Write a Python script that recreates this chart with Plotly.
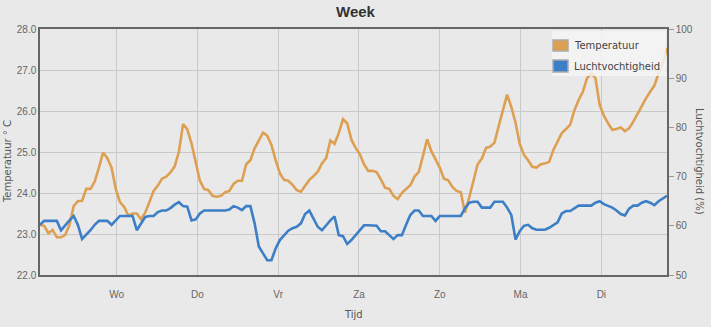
import pandas as pd
import plotly.graph_objects as go

# Readings every 75 minutes, starting Tuesday 01:15
start = "2014-06-03 01:15"
step = "75min"

temperatuur = [
    23.22, 23.2, 23.02, 23.1, 22.92, 22.92, 22.98, 23.22, 23.68, 23.8,
    23.81, 24.1, 24.1, 24.28, 24.62, 24.99, 24.85, 24.62, 24.1, 23.78,
    23.66, 23.45, 23.5, 23.5, 23.36, 23.52, 23.78, 24.05, 24.18, 24.35,
    24.4, 24.5, 24.65, 25.0, 25.68, 25.55, 25.21, 24.72, 24.3,
    24.1, 24.07, 23.93, 23.91, 23.93, 24.02, 24.05, 24.22, 24.3, 24.3,
    24.7, 24.8, 25.09, 25.3, 25.47, 25.4, 25.17, 24.8, 24.48, 24.32,
    24.3, 24.2, 24.07, 24.03, 24.17, 24.32, 24.41, 24.52, 24.72, 24.85,
    25.28, 25.2, 25.46, 25.8, 25.7, 25.3, 25.1, 24.95,
    24.7, 24.54, 24.54, 24.51, 24.33, 24.13, 24.1, 23.93, 23.85, 24.0,
    24.1, 24.19, 24.4, 24.51, 24.9, 25.31, 25.02, 24.82, 24.62, 24.35,
    24.31, 24.15, 24.05, 24.02, 23.52, 23.89, 24.29, 24.7, 24.84, 25.1,
    25.13, 25.23, 25.63, 26.04, 26.4, 26.1, 25.72, 25.2,
    24.93, 24.8, 24.64, 24.62, 24.7, 24.72, 24.76, 25.05, 25.25, 25.46,
    25.56, 25.67, 26.02, 26.27, 26.47, 26.8, 26.92, 26.8, 26.15, 25.89,
    25.7, 25.54, 25.56, 25.6, 25.51, 25.58, 25.74, 25.94, 26.13, 26.31,
    26.47, 26.62, 26.92, 27.16, 27.54,
]

luchtvochtigheid = [
    60.2, 61.0, 61.0, 61.0, 61.0, 59.1, 60.2, 61.1, 62.0, 60.2,
    57.3, 58.1, 59.1, 60.2, 61.0, 61.0, 61.0, 60.2, 61.0, 62.0,
    62.0, 62.0, 62.0, 59.1, 60.5, 61.8, 62.0, 62.0, 62.8, 63.1,
    63.1, 63.6, 64.3, 64.8, 64.0, 63.9, 61.1, 61.3, 62.5,
    63.1, 63.1, 63.1, 63.1, 63.1, 63.1, 63.3, 64.0, 63.7, 63.2,
    64.0, 64.0, 60.5, 55.8, 54.4, 53.0, 53.0, 55.4, 57.1, 58.1,
    59.0, 59.5, 59.8, 60.5, 62.4, 63.1, 61.5, 59.8, 59.1, 60.2,
    61.1, 61.9, 58.1, 57.9, 56.3, 57.1, 58.1, 59.3,
    60.1, 60.1, 60.1, 60.0, 58.9, 58.9, 58.1, 57.3, 58.1, 58.1,
    60.2, 62.2, 63.1, 63.1, 62.0, 62.0, 62.0, 61.0, 62.0, 62.0,
    62.0, 62.0, 62.0, 62.0, 63.6, 64.7, 64.9, 64.9, 63.7, 63.7,
    63.7, 64.9, 64.9, 64.9, 63.7, 62.2, 57.2, 58.9,
    60.0, 60.2, 59.5, 59.2, 59.2, 59.2, 59.6, 60.2, 60.7, 62.5,
    63.0, 63.0, 63.6, 64.1, 64.1, 64.1, 64.1, 64.7, 65.0, 64.4,
    64.1, 63.7, 63.1, 62.4, 62.1, 63.5, 64.1, 64.1, 64.7, 65.0,
    64.7, 64.2, 65.0, 65.6, 66.1,
]

dag_datums = ["2014-06-04", "2014-06-05", "2014-06-06", "2014-06-07",
              "2014-06-08", "2014-06-09", "2014-06-10"]
dag_namen = ["Wo", "Do", "Vr", "Za", "Zo", "Ma", "Di"]

namen = ["Temperatuur", "Luchtvochtigheid"]
kleuren = ["#DDA053", "#3D7FC6"]

tijd = pd.date_range(start, periods=len(temperatuur), freq=step)

fig = go.Figure()
fig.add_trace(go.Scatter(x=tijd, y=temperatuur, name=namen[0], mode="lines",
                         line=dict(color=kleuren[0], width=2.6), yaxis="y"))
fig.add_trace(go.Scatter(x=tijd, y=luchtvochtigheid, name=namen[1], mode="lines",
                         line=dict(color=kleuren[1], width=2.6), yaxis="y2"))

tick_font = dict(family="Liberation Sans, Arial", size=10, color="#666666")
title_font = dict(family="DejaVu Sans", size=10, color="#555555")

fig.update_layout(
    width=711, height=327,
    margin=dict(l=40, r=44, t=29, b=52),
    paper_bgcolor="#E9E9E9",
    plot_bgcolor="#E9E9E9",
    showlegend=False,
    title=dict(text="<b>Week</b>", x=0.5, xanchor="center", y=1 - 12 / 327,
               yanchor="middle",
               font=dict(family="Liberation Sans, Arial", size=15, color="#333333")),
    xaxis=dict(
        range=[tijd[0], tijd[-1]],
        tickvals=pd.to_datetime(dag_datums), ticktext=dag_namen,
        ticks="outside", ticklen=9, tickcolor="rgba(0,0,0,0)",
        showgrid=True, gridcolor="#C9C9C9", gridwidth=1,
        showline=True, linecolor="#666666", linewidth=1.5, mirror=True,
        tickfont=tick_font, zeroline=False,
    ),
    yaxis=dict(
        range=[22, 28], dtick=1, tickformat=".1f",
        showgrid=True, gridcolor="#C9C9C9", gridwidth=1,
        showline=True, linecolor="#666666", linewidth=1.5, mirror=True,
        tickfont=tick_font, zeroline=False, ticks="",
    ),
    yaxis2=dict(
        range=[50, 100], dtick=10, overlaying="y", side="right",
        showgrid=False, zeroline=False,
        showline=True, linecolor="#666666", linewidth=1.5,
        ticks="outside", ticklen=5, tickcolor="#999999",
        tickfont=tick_font,
    ),
)

# Axis titles
fig.add_annotation(text="Tijd", xref="paper", yref="paper", x=0.5, y=-0.1626,
                   showarrow=False, font=title_font, xanchor="center", yanchor="middle")
fig.add_annotation(text="Temperatuur ° C", xref="paper", yref="paper",
                   x=-0.0526, y=0.459, textangle=-90, showarrow=False,
                   font=title_font, xanchor="center", yanchor="middle")
fig.add_annotation(text="Luchtvochtigheid (%)", xref="paper", yref="paper",
                   x=1.0526, y=0.459, textangle=90, showarrow=False,
                   font=title_font, xanchor="center", yanchor="middle")

# Legend box in the top-right corner of the plot area
fig.add_shape(type="rect", xref="paper", yref="paper",
              x0=0.8166, x1=0.9984, y0=0.809, y1=0.992,
              fillcolor="rgba(244,244,244,0.85)", line=dict(width=0), layer="above")
legend_rows = [(0.911, 0.955), (0.825, 0.874)]
for naam, kleur, (y0, y1) in zip(namen, kleuren, legend_rows):
    fig.add_shape(type="rect", xref="paper", yref="paper",
                  x0=0.8182, x1=0.8421, y0=y0, y1=y1,
                  fillcolor=kleur, line=dict(color="#AAAAAA", width=1.5), layer="above")
    fig.add_annotation(text=naam, xref="paper", yref="paper",
                       x=0.8485, y=(y0 + y1) / 2, xanchor="left", yanchor="middle",
                       showarrow=False,
                       font=dict(family="DejaVu Sans", size=10, color="#444444"))

fig.write_html("out.html")
